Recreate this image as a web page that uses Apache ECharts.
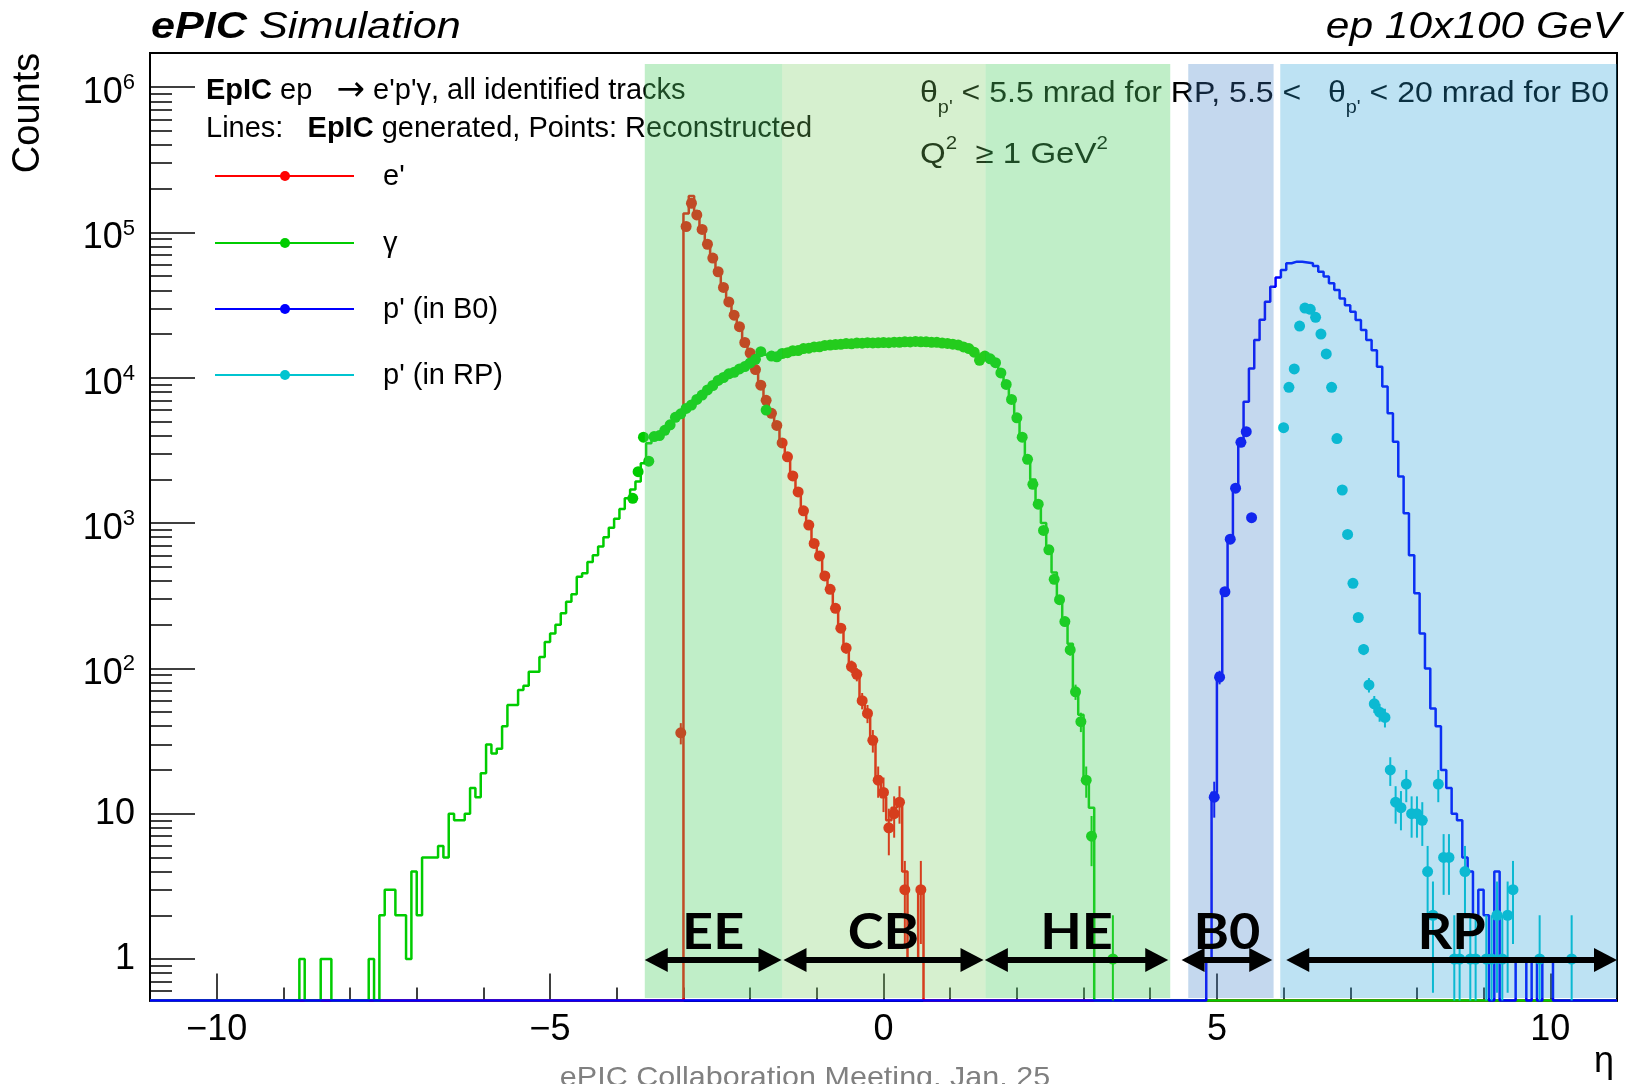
<!DOCTYPE html>
<html>
<head>
<meta charset="utf-8">
<script src="https://cdn.jsdelivr.net/npm/echarts@6/dist/echarts.min.js"></script>
<style>
  html, body { margin: 0; padding: 0; background: #fff; }
  #chart { width: 1629px; height: 1084px; }
</style>
</head>
<body>
<div id="chart"></div>
<script>
// eta binning of all histograms
const etaMin = -11
const binWidth = 0.08
const nBins = 275

// generated (lines): index of first bin + counts per bin
const eGenFirst = 100
const eGenCounts = [135000, 178000, 140000, 110000, 87000, 69000, 55000, 43500, 34500, 27800, 23000, 18200, 15000, 11800, 9200, 7200, 5800, 4800, 3650, 2900, 2150, 1680, 1240, 990, 740, 600, 440, 355, 262, 192, 140, 104, 90, 62, 48, 33, 18, 13, 9, 11, 12, 4, 1, 1, 3]

const gammaGenFirst = 28
const gammaGenCounts = [
  1, 0, 0, 0, 1, 1, 0, 0, 0, 0, 0, 0, 0,
  1, 0, 2, 3, 3, 2, 2, 1, 4, 2, 5, 5, 5, 6, 5, 10, 9, 9, 10, 15, 13, 19, 30, 26, 28, 40, 56, 56, 71, 76, 95, 95, 120, 152, 174, 200, 240, 288, 324, 427, 451, 540,
  600, 690, 800, 930, 1070, 1250, 1480, 1700, 1930, 2580, 3540,
  3940, 4070, 4310, 4790, 5310, 5690, 6100, 6530, 7080, 7670, 8220, 8910, 9550, 10100, 10600, 10960, 11480, 12020, 12590, 13490,
  14400, 14450, 14130, 14000, 14620, 14960, 15310, 15490, 15850, 16030, 16220, 16410, 16670, 16830,
  16900, 17020, 17140, 17220, 17300, 17340, 17380, 17420, 17380, 17460, 17500, 17540, 17600, 17650, 17700, 17780, 17740, 17660, 17580, 17500, 17380, 17220, 17100,
  16830, 16410, 15850, 15140, 14450, 14130, 13650, 12590, 10960, 9120, 7240, 5320, 4070, 2880, 1995, 1410, 1000, 690, 457, 309, 209, 148, 69, 48, 17, 11
]

const pB0GenFirst = 198
const pB0GenCounts = [1, 14, 93, 337, 765, 1740, 3540, 6850, 11600, 18200, 25100, 33400, 42400, 49000, 55200, 61400, 63000, 63000, 62200, 61400, 58900, 53700, 49700, 44700, 40200, 35200, 31600, 28500, 25000, 21300, 18200, 15500, 11900, 8700, 5700, 3630, 2090, 1170, 600, 329, 174, 100, 53, 40, 20, 15, 10, 9, 5, 4, 2, 3, 2, 0, 4, 0, 0, 0, 1, 1, 0, 1, 0, 1, 1]

// reconstructed (points)
const eRecoFirst = 99
const eRecoCounts = [36, 110000, 159000, 132000, 105000, 83000, 66700, 53700, 41900, 33300, 27000, 22500, 17500, 14800, 11400, 8900, 7000, 5700, 4700, 3560, 2860, 2110, 1640, 1215, 970, 725, 594, 433, 350, 259, 189, 138, 103, 91, 60, 49, 32, 17, 14, 8, 10, 12, 3, 0, 0, 3]

const gammaRecoFirst = 90
const gammaRecoCounts = [
  1480, 2260, 3900, 2670,
  3940, 4000, 4350, 4750, 5350, 5650, 6150, 6500, 7100, 7600, 8250, 8850, 9600, 10050, 10650, 10900, 11500, 11950, 12650, 13400,
  15140, 6000, 14100, 13960, 14700, 14900, 15350, 15400, 15900, 16000, 16300, 16350, 16700, 16800,
  16950, 17000, 17200, 17150, 17350, 17300, 17450, 17380, 17420, 17500, 17450, 17600, 17550, 17700, 17650, 17800, 17700, 17700, 17550, 17550, 17350, 17250, 17050,
  16850, 16300, 15900, 15000, 13200, 14100, 13500, 12700, 10800, 9000, 7100, 5300, 3900, 2750, 1850, 1350, 890, 655, 410, 297, 210, 134, 69, 43, 17, 7,
  0, 0, 0, 1
]

const pB0RecoFirst = 199
const pB0RecoCounts = [13, 87, 337, 775, 1740, 3600, 4260, 1090]

const pRPRecoFirst = 212
const pRPRecoCounts = [4540, 8600, 11500, 22700, 30200, 29600, 26100, 20000, 14600, 8600, 3820, 1690, 835, 385, 224, 135, 77, 57, 50, 46, 20, 12, 11, 16, 10, 10, 9, 4, 2, 16, 5, 5, 1, 1, 4, 1, 1, 0, 1, 1, 2, 1, 2, 3, 0, 0, 0, 0, 1, 0, 0, 0, 0, 0, 1]

// detector regions (eta)
const regionNames = ['EE', 'CB', 'HE', 'B0', 'RP']
const regionBands = [[-3.58, -1.52], [-1.52, 1.53], [1.53, 4.30], [4.57, 5.85], [5.95, 11]]
const regionArrows = [[-3.58, -1.53], [-1.50, 1.50], [1.52, 4.27], [4.47, 5.83], [6.04, 11]]

// axes
const xMajorTicks = [-10, -5, 0, 5, 10]
const xMinorTicks = [-10, -9, -8, -7, -6, -5, -4, -3, -2, -1, 0, 1, 2, 3, 4, 5, 6, 7, 8, 9, 10]
const yDecades = [0, 1, 2, 3, 4, 5, 6]

const legendNames = ["e'", 'γ', "p' (in B0)", "p' (in RP)"]

// ---- styling / layout ----
const FONT = '"Liberation Sans", Arial, sans-serif'
const RED = '#ff0000'
const GREEN = '#00cc00'
const BLUE = '#0000ff'
const CYAN = '#00c4d0'
const bandColors = ['rgba(80,208,103,0.36)', 'rgba(118,205,95,0.3)', 'rgba(80,208,103,0.36)', 'rgba(58,125,198,0.3)', 'rgba(38,158,215,0.3)']
const Y_MIN = -0.2856 // log10 of the axis bottom
const Y_MAX = 6.2354
const BAND_TOP = 6.16
const BAND_BOTTOM = -0.268

const lg = (v) => (v > 0 ? Math.log10(v) : Y_MIN)

const yMinorTicks = []
for (let n = -1; n <= 6; n++) {
  for (let m = 2; m <= 9; m++) {
    const t = Math.log10(m) + n
    if (t > Y_MIN && t < Y_MAX) yMinorTicks.push(t)
  }
}

// histogram drawn as steps through bin edges
const stepData = (first, counts) => {
  const h = new Array(nBins).fill(0)
  counts.forEach((c, i) => { h[first + i] = c })
  const pts = h.map((c, k) => [etaMin + k * binWidth, lg(c)])
  pts.push([etaMin + nBins * binWidth, lg(h[nBins - 1])])
  return pts
}

// points at bin centres with poisson error bars
const pointData = (first, counts) => {
  const out = []
  counts.forEach((c, i) => {
    if (c <= 0) return
    const x = etaMin + (first + i + 0.5) * binWidth
    const e = Math.sqrt(c)
    out.push([x, lg(c), lg(c + e), c - e > 0 ? lg(c - e) : Y_MIN])
  })
  return out
}

const lineSeries = (name, first, counts, color) => ({
  name,
  type: 'line',
  step: 'end',
  data: stepData(first, counts),
  symbol: 'none',
  clip: false,
  z: 2,
  lineStyle: { color, width: 2.5 },
  animation: false
})

const pointSeries = (name, first, counts, color) => ({
  name,
  type: 'custom',
  data: pointData(first, counts),
  encode: { x: 0, y: 1 },
  z: 3,
  renderItem: (params, api) => {
    const p = api.coord([api.value(0), api.value(1)])
    const hi = api.coord([api.value(0), api.value(2)])
    const lo = api.coord([api.value(0), api.value(3)])
    return {
      type: 'group',
      children: [
        { type: 'line', shape: { x1: p[0], y1: hi[1], x2: p[0], y2: lo[1] }, style: { stroke: color, lineWidth: 2 } },
        { type: 'circle', shape: { cx: p[0], cy: p[1], r: 5.5 }, style: { fill: color } }
      ]
    }
  },
  animation: false
})

const chart = echarts.init(document.getElementById('chart'))

const legendRowsY = [176, 243, 309, 375]
const legendColors = [RED, GREEN, BLUE, CYAN]
const legendGraphics = []
legendNames.forEach((name, i) => {
  const y = legendRowsY[i]
  legendGraphics.push(
    { type: 'line', z: 5, shape: { x1: 215, y1: y, x2: 354, y2: y }, style: { stroke: legendColors[i], lineWidth: 2 } },
    { type: 'circle', z: 5, shape: { cx: 285, cy: y, r: 5 }, style: { fill: legendColors[i] } },
    { type: 'text', z: 5, x: 383, y: y + 1, style: { text: name, font: '29px ' + FONT, fill: '#000', verticalAlign: 'middle' } }
  )
})

const axisBase = {
  type: 'value',
  splitLine: { show: false }
}

chart.setOption({
  animation: false,
  backgroundColor: '#fff',
  grid: {
    left: 150, right: 12, top: 53, bottom: 83.5,
    show: true, borderColor: '#000', borderWidth: 2,
    outerBoundsMode: 'none'
  },
  xAxis: [
    {
      ...axisBase, min: -11, max: 11, position: 'bottom',
      axisLine: { show: true, onZero: false, lineStyle: { color: '#000', width: 2 } },
      axisTick: { show: true, inside: true, length: 27, customValues: xMajorTicks, lineStyle: { color: '#000', width: 1.5 } },
      axisLabel: {
        customValues: xMajorTicks,
        formatter: (v) => (v < 0 ? '\u2212' + Math.abs(v) : String(v)),
        fontSize: 36, fontFamily: FONT, color: '#000', margin: 12
      }
    },
    {
      ...axisBase, min: -11, max: 11, position: 'bottom',
      axisLine: { show: false, onZero: false },
      axisTick: { show: true, inside: true, length: 13, customValues: xMinorTicks, lineStyle: { color: '#000', width: 1.5 } },
      axisLabel: { show: false }
    }
  ],
  yAxis: [
    {
      ...axisBase, min: Y_MIN, max: Y_MAX, position: 'left',
      axisLine: { show: true, onZero: false, lineStyle: { color: '#000', width: 2 } },
      axisTick: { show: true, inside: true, length: 45, customValues: yDecades, lineStyle: { color: '#000', width: 1.5 } },
      axisLabel: {
        customValues: yDecades,
        margin: 15,
        formatter: (v) => {
          const n = Math.round(v)
          if (n === 0) return '{b|1}'
          if (n === 1) return '{b|10}'
          return '{bs|10}{s|' + n + '}'
        },
        rich: {
          b: { fontSize: 36, fontFamily: FONT, color: '#000', lineHeight: 36 },
          bs: { fontSize: 36, fontFamily: FONT, color: '#000', lineHeight: 36, padding: [12, 0, 0, 0] },
          s: { fontSize: 22, fontFamily: FONT, color: '#000', lineHeight: 22, padding: [0, 0, 8, 0] }
        }
      }
    },
    {
      ...axisBase, min: Y_MIN, max: Y_MAX, position: 'left',
      axisLine: { show: false, onZero: false },
      axisTick: { show: true, inside: true, length: 22, customValues: yMinorTicks, lineStyle: { color: '#000', width: 1.5 } },
      axisLabel: { show: false }
    }
  ],
  series: [
    lineSeries('e gen', eGenFirst, eGenCounts, RED),
    lineSeries('gamma gen', gammaGenFirst, gammaGenCounts, GREEN),
    lineSeries('p B0 gen', pB0GenFirst, pB0GenCounts, BLUE),
    pointSeries('e reco', eRecoFirst, eRecoCounts, RED),
    pointSeries('gamma reco', gammaRecoFirst, gammaRecoCounts, GREEN),
    pointSeries('p B0 reco', pB0RecoFirst, pB0RecoCounts, BLUE),
    pointSeries('p RP reco', pRPRecoFirst, pRPRecoCounts, CYAN),
    {
      // detector acceptance bands, drawn over the data like the slide overlay
      name: 'regions',
      type: 'custom',
      z: 10,
      data: regionBands.map((b, i) => [b[0], b[1], i]),
      encode: { x: [0, 1] },
      renderItem: (params, api) => {
        const a = api.coord([api.value(0), BAND_TOP])
        const b = api.coord([api.value(1), BAND_BOTTOM])
        return {
          type: 'rect',
          shape: { x: a[0], y: a[1], width: b[0] - a[0], height: b[1] - a[1] },
          style: { fill: bandColors[api.value(2)] }
        }
      },
      animation: false
    },
    {
      name: 'arrows',
      type: 'custom',
      z: 12,
      data: regionArrows.map((a, i) => [a[0], a[1], lg(1), i]),
      encode: { x: [0, 1], y: 2 },
      renderItem: (params, api) => {
        const a = api.coord([api.value(0), api.value(2)])
        const b = api.coord([api.value(1), api.value(2)])
        const y = a[1] + 1
        const hl = 23
        const hw = 12
        return {
          type: 'group',
          children: [
            { type: 'line', shape: { x1: a[0] + hl - 2, y1: y, x2: b[0] - hl + 2, y2: y }, style: { stroke: '#000', lineWidth: 6 } },
            { type: 'polygon', shape: { points: [[a[0], y], [a[0] + hl, y - hw], [a[0] + hl, y + hw]] }, style: { fill: '#000' } },
            { type: 'polygon', shape: { points: [[b[0], y], [b[0] - hl, y - hw], [b[0] - hl, y + hw]] }, style: { fill: '#000' } },
            {
              type: 'text', x: (a[0] + b[0]) / 2, y: y - 27, scaleX: 1.08,
              style: { text: regionNames[api.value(3)], font: 'bold 50px Lato, "Open Sans", sans-serif', fill: '#000', align: 'center', verticalAlign: 'middle' }
            }
          ]
        }
      },
      animation: false
    }
  ],
  graphic: [
    {
      type: 'text', z: 5, x: 151, y: 28, scaleX: 1.2,
      style: {
        text: '{b|ePIC}{n| Simulation}', verticalAlign: 'middle', fill: '#000',
        rich: { b: { font: 'italic bold 36px ' + FONT }, n: { font: 'italic 36px ' + FONT } }
      }
    },
    {
      type: 'text', z: 5, x: 1621, y: 28, scaleX: 1.18,
      style: { text: 'ep 10x100 GeV', font: 'italic 36px ' + FONT, fill: '#000', align: 'right', verticalAlign: 'middle' }
    },
    {
      type: 'text', z: 5, x: 29, y: 113, rotation: Math.PI / 2,
      style: { text: 'Counts', font: '38px ' + FONT, fill: '#000', align: 'center', verticalAlign: 'middle' }
    },
    {
      type: 'text', z: 5, x: 1604, y: 1062,
      style: { text: 'η', font: '36px ' + FONT, fill: '#000', align: 'center', verticalAlign: 'middle' }
    },
    {
      type: 'text', z: 5, x: 805, y: 1064, scaleX: 1.09,
      style: { text: 'ePIC Collaboration Meeting, Jan. 25', font: '28px ' + FONT, fill: '#808080', align: 'center', verticalAlign: 'top' }
    },
    {
      type: 'text', z: 5, x: 206, y: 91,
      style: {
        text: '{b|EpIC}{n| ep   }{ar|\u2192}{n| e\'p\'\u03b3, all identified tracks}', verticalAlign: 'middle', fill: '#000',
        rich: { b: { font: 'bold 29px ' + FONT }, n: { font: '29px ' + FONT }, ar: { font: '34px "DejaVu Sans", sans-serif' } }
      }
    },
    {
      type: 'text', z: 5, x: 206, y: 129,
      style: {
        text: '{n|Lines:   }{b|EpIC}{n| generated, Points: Reconstructed}', verticalAlign: 'middle', fill: '#000',
        rich: { b: { font: 'bold 29px ' + FONT }, n: { font: '29px ' + FONT } }
      }
    },
    {
      type: 'text', z: 5, x: 920, y: 96, scaleX: 1.105,
      style: {
        text: '{t|\u03b8}{sub|p\'}{t| < 5.5 mrad for RP, 5.5 <   \u03b8}{sub|p\'}{t| < 20 mrad for B0}', verticalAlign: 'middle', fill: '#000',
        rich: {
          t: { font: '29px ' + FONT, lineHeight: 34, verticalAlign: 'top' },
          sub: { font: '18px ' + FONT, lineHeight: 18, padding: [20, 0, 0, 0], verticalAlign: 'top' }
        }
      }
    },
    {
      type: 'text', z: 5, x: 920, y: 152, scaleX: 1.14,
      style: {
        text: '{q|Q}{s|2}{q|  \u2265 1 GeV}{s|2}', verticalAlign: 'middle', fill: '#000',
        rich: {
          q: { font: '29px ' + FONT, lineHeight: 34, padding: [4, 0, 0, 0], verticalAlign: 'bottom' },
          s: { font: '18px ' + FONT, lineHeight: 18, verticalAlign: 'top' }
        }
      }
    }
  ].concat(legendGraphics)
})
</script>
</body>
</html>
